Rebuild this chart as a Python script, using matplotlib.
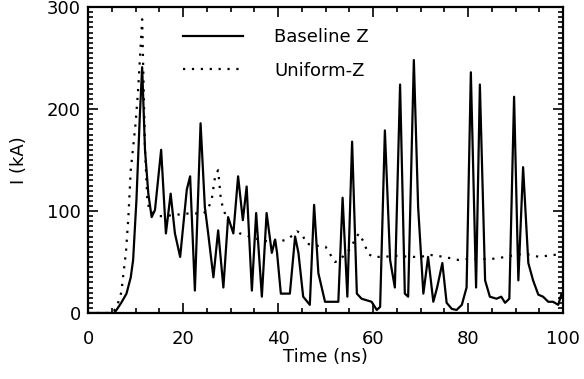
import matplotlib
matplotlib.use("Agg")
import matplotlib.pyplot as plt
from matplotlib.ticker import MultipleLocator

t_base = [0, 5.5, 6.0, 7.0, 8.1, 9.0, 9.5, 10.2, 10.9, 11.4, 12.0, 12.7, 13.4, 14.1,
          15.4, 16.4, 17.4, 18.3, 19.4, 20.8, 21.5, 22.5, 23.7, 24.6, 25.3, 26.4,
          27.4, 28.5, 29.5, 30.6, 31.6, 32.6, 33.4, 34.5, 35.4, 36.6, 37.6, 38.7,
          39.4, 39.8, 40.6, 41.5, 42.5, 43.6, 44.3, 45.3, 46.7, 47.6, 48.5, 49.9,
          51.6, 52.7, 53.6, 54.6, 55.6, 56.6, 57.6, 59.7, 60.8, 61.5, 62.5, 63.6,
          64.6, 65.7, 66.7, 67.4, 68.6, 69.5, 70.6, 71.6, 72.7, 73.5, 74.6, 75.5,
          76.6, 77.6, 78.7, 79.7, 80.6, 81.7, 82.5, 83.6, 84.6, 86.0, 87.0, 87.8,
          88.7, 89.7, 90.6, 91.6, 92.7, 93.7, 94.8, 95.8, 96.9, 97.9, 99.0, 99.7, 100]
i_base = [0, 0, 3, 10, 19, 35, 52, 111, 192, 241, 160, 117, 94, 101,
          160, 78, 117, 78, 55, 121, 134, 22, 186, 104, 78, 35,
          81, 25, 94, 78, 134, 91, 124, 22, 98, 16, 98, 59,
          72, 59, 19, 19, 19, 75, 59, 16, 8, 106, 39, 11,
          11, 11, 113, 16, 168, 19, 14, 11, 3, 6, 179, 52,
          25, 224, 19, 16, 248, 104, 19, 55, 11, 25, 49, 10,
          4, 3, 8, 25, 236, 25, 224, 32, 16, 14, 16, 10,
          14, 212, 32, 143, 49, 32, 18, 16, 11, 11, 8, 19, 15]

t_unif = [0, 5, 6, 7, 8, 8.5, 9, 10, 10.5, 11, 11.4, 12, 12.5, 13, 14, 15, 16, 18,
          20, 22, 24, 25, 26, 26.8, 27.4, 28, 29, 30, 32, 34, 36, 38, 40, 42, 44,
          45, 46, 48, 50, 52, 53, 55, 57, 58, 59, 60, 62, 65, 68, 70, 72, 75, 78,
          80, 85, 88, 90, 92, 95, 98, 100]
i_unif = [0, 0, 5, 20, 60, 94, 140, 185, 215, 255, 288, 160, 110, 100, 97, 95, 95, 96,
          97, 98, 97, 100, 110, 135, 140, 110, 95, 85, 78, 75, 72, 70, 70, 72, 80,
          78, 68, 66, 65, 50, 52, 62, 78, 70, 58, 55, 55, 56, 55, 55, 57, 55, 52,
          53, 53, 55, 57, 58, 55, 57, 57]

plt.rcParams['font.family'] = ['DejaVu Sans']
fig = plt.figure(figsize=(5.84, 3.79), dpi=100)
ax = fig.add_axes([88/584, 1 - 313/379, 475/584, 306/379])

ax.plot(t_base, i_base, color='black', lw=1.6, label='Baseline Z')
ax.plot(t_unif, i_unif, color='black', lw=1.6, linestyle=(0, (1, 3)), label='Uniform-Z')

ax.set_xlim(0, 100)
ax.set_ylim(0, 300)
ax.xaxis.set_major_locator(MultipleLocator(20))
ax.xaxis.set_minor_locator(MultipleLocator(5))
ax.yaxis.set_major_locator(MultipleLocator(100))
ax.yaxis.set_minor_locator(MultipleLocator(5))
ax.tick_params(which='both', direction='in', top=True, right=True, width=1.2,
               labelsize=13, colors='black')
ax.tick_params(which='major', length=7)
ax.tick_params(which='minor', length=3.5)
ax.tick_params(axis='x', which='major', pad=12)
ax.tick_params(axis='y', which='major', pad=5)
for s in ax.spines.values():
    s.set_linewidth(1.6)

ax.set_xlabel('Time (ns)', fontsize=13, labelpad=0)
ax.set_ylabel('I (kA)', fontsize=13, labelpad=14)

ax.legend(loc='upper left', bbox_to_anchor=(0.2, 0.93), frameon=False,
          fontsize=13, handlelength=3.3, handletextpad=1.75, labelspacing=0.85,
          borderpad=0, borderaxespad=0)

fig.savefig('out.png', dpi=100)
